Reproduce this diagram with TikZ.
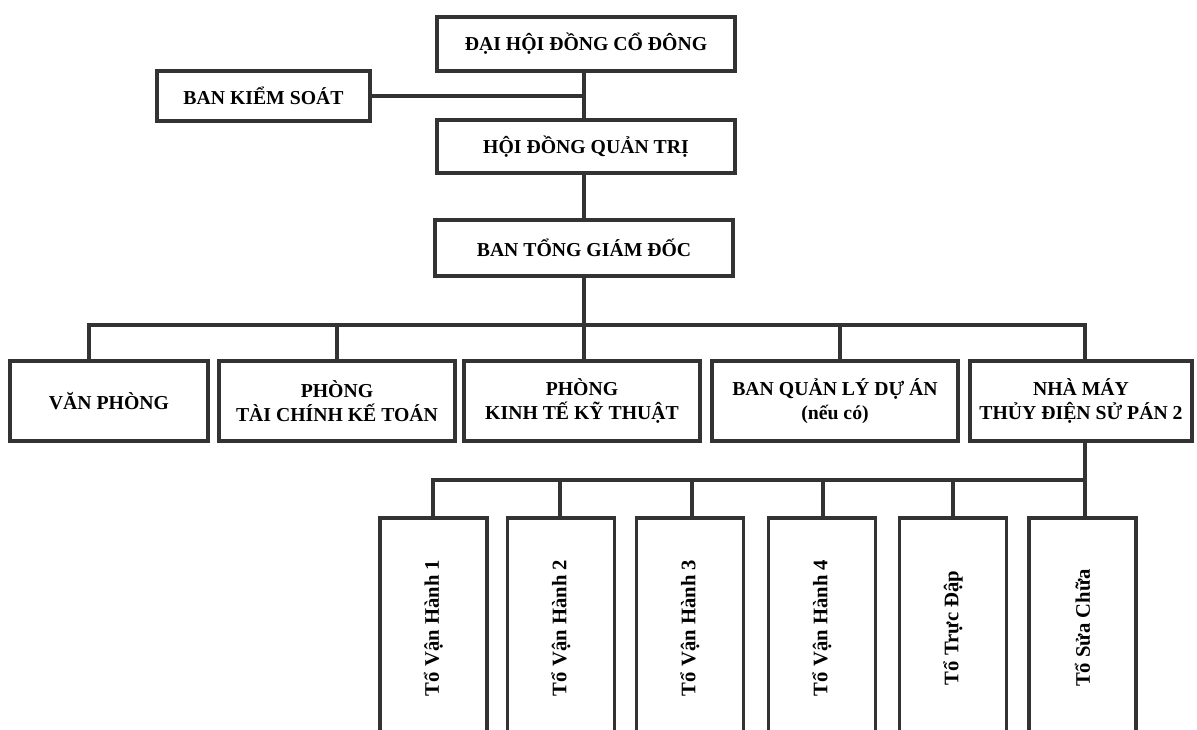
\documentclass[tikz,border=0pt]{standalone}
\usepackage{fontspec}
\setmainfont{Liberation Serif}
\definecolor{ink}{HTML}{333333}
\def\px{0.75pt}
\tikzset{
  box/.style={draw=ink, line width=2.6pt, fill=white, align=center, inner sep=0pt,
    font=\fontsize{14.8}{17.5}\selectfont\bfseries},
  vbox/.style={box, rotate=90, minimum width=220*\px, minimum height=107*\px,
    font=\fontsize{15.5}{18}\selectfont\bfseries},
  conn/.style={draw=ink, line width=2.5pt},
}
\begin{document}
\begin{tikzpicture}[x=0.75pt, y=-0.75pt]
\useasboundingbox (0,0) rectangle (1197,730);
\clip (0,0) rectangle (1197,730);
\fill[white] (0,0) rectangle (1197,730);

% top chain
\node[box, minimum width=298*\px, minimum height=54*\px] (dh) at (586,44) {ĐẠI HỘI ĐỒNG CỔ ĐÔNG};
\node[box, minimum width=213*\px, minimum height=50*\px] (bks) at (263.5,96) {BAN KIỂM SOÁT};
\node[box, minimum width=298*\px, minimum height=53*\px] (hd) at (586,146.5) {HỘI ĐỒNG QUẢN TRỊ};
\node[box, minimum width=298*\px, minimum height=56*\px] (tgd) at (584,248) {BAN TỔNG GIÁM ĐỐC};

% middle row
\node[box, minimum width=198*\px, minimum height=80*\px] (vp) at (109,401) {VĂN PHÒNG};
\node[box, minimum width=236*\px, minimum height=80*\px] (tc) at (337,401) {PHÒNG\\TÀI CHÍNH KẾ TOÁN};
\node[box, minimum width=236*\px, minimum height=80*\px] (kt) at (582,401) {PHÒNG\\KINH TẾ KỸ THUẬT};
\node[box, minimum width=246*\px, minimum height=80*\px] (ql) at (835,401) {BAN QUẢN LÝ DỰ ÁN\\(nếu có)};
\node[box, minimum width=222*\px, minimum height=80*\px] (nm) at (1081,401) {NHÀ MÁY\\THỦY ĐIỆN SỬ PÁN 2};

% bottom row
\node[vbox] (t1) at (433.5,628) {Tổ Vận Hành 1};
\node[vbox] (t2) at (561,628) {Tổ Vận Hành 2};
\node[vbox] (t3) at (690,628) {Tổ Vận Hành 3};
\node[vbox] (t4) at (822,628) {Tổ Vận Hành 4};
\node[vbox] (td) at (953,628) {Tổ Trực Đập};
\node[vbox] (sc) at (1082.5,628) {Tổ Sửa Chữa};

% connectors top
\coordinate (j0) at (584,0);
\coordinate (j1) at (bks.east -| j0);
\draw[conn] (dh.south -| j0) -- (hd.north -| j0);
\draw[conn] (bks.east) -- (j1);
\draw[conn] (hd.south -| j0) -- (tgd.north -| j0);

% bus 1
\coordinate (b1) at (89,325);
\coordinate (b2) at (337,325);
\coordinate (b3) at (584,325);
\coordinate (b4) at (840,325);
\coordinate (b5) at (1085,325);
\draw[conn] (tgd.south -| b3) -- (b3);
\draw[conn] (b1 |- vp.north) -- (b1) -- (b5) -- (b5 |- nm.north);
\draw[conn] (b2) -- (b2 |- tc.north);
\draw[conn] (b3) -- (b3 |- kt.north);
\draw[conn] (b4) -- (b4 |- ql.north);

% bus 2
\coordinate (c1) at (433,480);
\coordinate (c2) at (560,480);
\coordinate (c3) at (692,480);
\coordinate (c4) at (823,480);
\coordinate (c5) at (953,480);
\coordinate (c6) at (1085,480);
\draw[conn] (c6 |- nm.south) -- (c6) -- (c6 |- sc.east);
\draw[conn] (c1 |- t1.east) -- (c1) -- (c6);
\draw[conn] (c2) -- (c2 |- t2.east);
\draw[conn] (c3) -- (c3 |- t3.east);
\draw[conn] (c4) -- (c4 |- t4.east);
\draw[conn] (c5) -- (c5 |- td.east);
\end{tikzpicture}
\end{document}
